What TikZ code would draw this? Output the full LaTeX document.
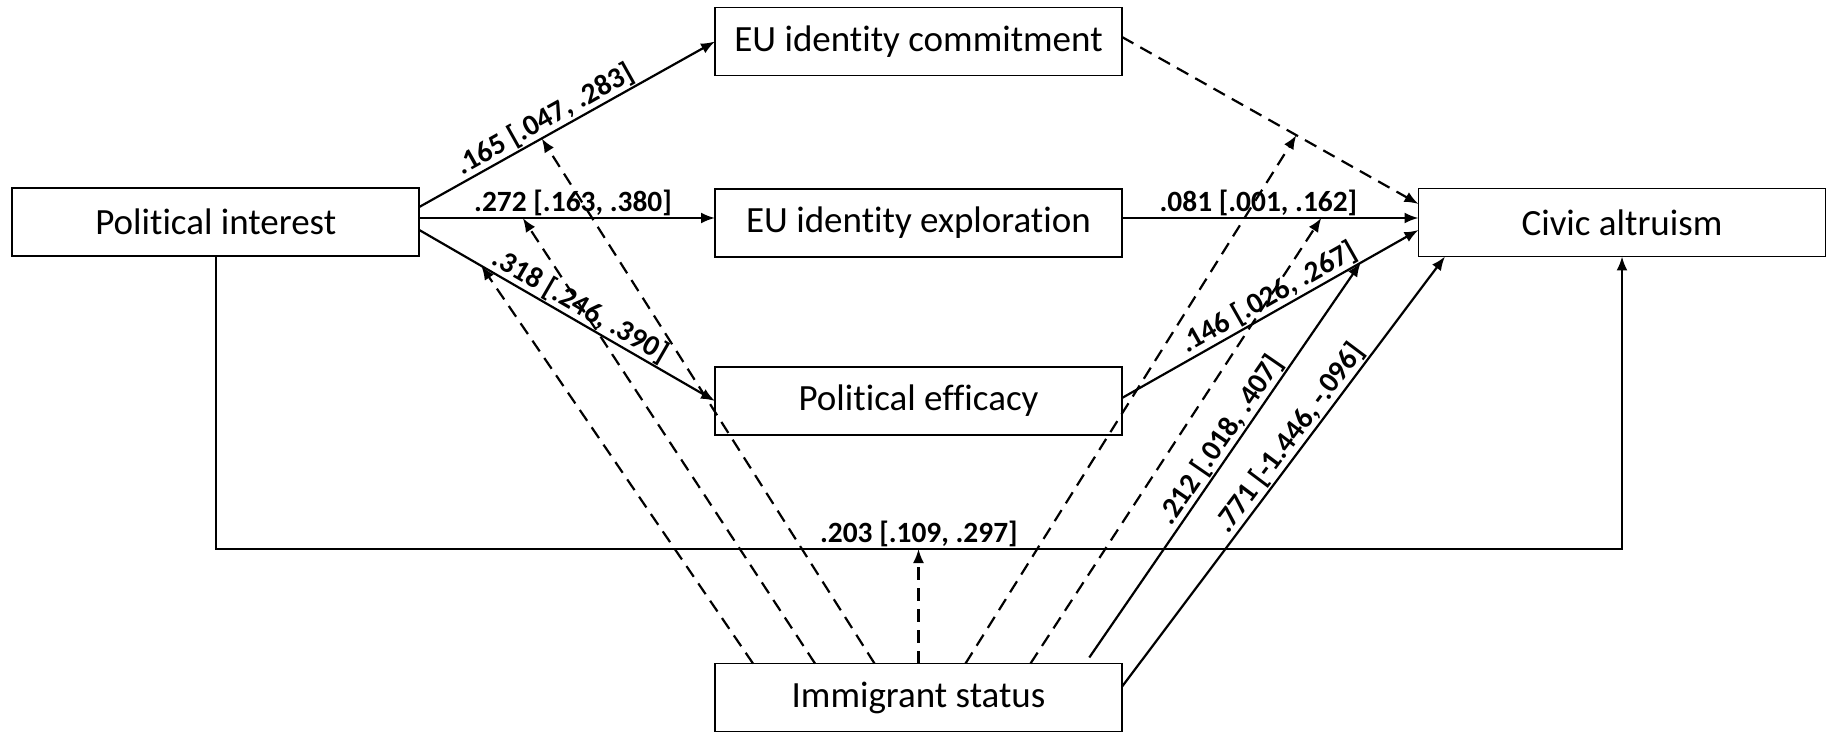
\documentclass[tikz,border=0pt]{standalone}
\usepackage{fontspec}
\setmainfont{Carlito}[Ligatures=NoCommon]
\usetikzlibrary{arrows.meta,calc}
\begin{document}
\begin{tikzpicture}[x=0.5pt,y=-0.5pt,
  box/.style={draw,line width=0.9pt,minimum width=203.5pt,minimum height=34pt,inner sep=0pt,outer sep=0pt,font=\fontsize{18.5}{22}\selectfont},
  conn/.style={line width=1.1pt,-{Latex[length=7pt,width=5.5pt]}},
  dconn/.style={conn,dash pattern=on 6.5pt off 4pt},
  lab/.style={font=\bfseries\fontsize{14.7}{16}\selectfont,inner sep=0.5pt}
]
\useasboundingbox (0,0) rectangle (1831,732);
\node[box] (pi)  at (215.75,222) {Political interest};
\node[box] (com) at (918.5,41.5) {EU identity commitment};
\node[box] (exp) at (918.5,223)  {EU identity exploration};
\node[box] (eff) at (918.5,401)  {Political efficacy};
\node[box] (imm) at (918.5,697.5) {Immigrant status};
\node[box] (civ) at (1622,222.5) {Civic altruism};

\coordinate (dl) at (0,549);
\coordinate (pe2) at ([yshift=2pt]pi.east);
\coordinate (xe2) at ([yshift=2.5pt]exp.east);

% a paths
\draw[conn] ([yshift=7.5pt]pi.east) -- node[lab,sloped,above,pos=0.45]{.165 [.047, .283]} coordinate[pos=0.414] (m3) (com.west);
\draw[conn] (pe2) -- node[lab,above,pos=0.52]{.272 [.163, .380]} coordinate[pos=0.35] (m2) (pe2 -| exp.west);
\draw[conn] ([yshift=-4pt]pi.east) -- node[lab,sloped,above,pos=0.52]{.318 [.246, .390]} coordinate[pos=0.21] (m1) (eff.west);

% b paths
\draw[dconn] ([yshift=2.25pt]com.east) -- coordinate[pos=0.588] (m4) ([yshift=9.25pt]civ.west);
\draw[conn] (xe2) -- node[lab,above,pos=0.46]{.081 [.001, .162]} coordinate[pos=0.672] (m5) (xe2 -| civ.west);
\draw[conn] ([yshift=1.5pt]eff.east) -- node[lab,sloped,above,pos=0.52]{.146 [.026, .267]} coordinate[pos=0.805] (m6) ([yshift=-3.75pt]civ.west);

% direct path
\draw[conn] (pi.south) -- (pi.south |- dl) -- node[lab,above]{.203 [.109, .297]} (civ.south |- dl) -- (civ.south);

% moderation
\draw[dconn] ([xshift=-82.75pt]imm.north) -- (m1);
\draw[dconn] ([xshift=-51.75pt]imm.north) -- (m2);
\draw[dconn] ([xshift=-22pt]imm.north) -- (m3);
\draw[dconn] (imm.north) -- (imm.north |- dl);
\draw[dconn] ([xshift=23.5pt]imm.north) -- (m4);
\draw[dconn] ([xshift=56pt]imm.north) -- (m5);
\draw[conn] ([xshift=85.4pt,yshift=3pt]imm.north) -- node[lab,sloped,above,pos=0.53]{.212 [.018, .407]} (m6);
\draw[conn] ([yshift=5.4pt]imm.east) -- node[lab,sloped,above,pos=0.557]{.771 [-1.446, -.096]} ([xshift=-88.5pt]civ.south);
\end{tikzpicture}
\end{document}
